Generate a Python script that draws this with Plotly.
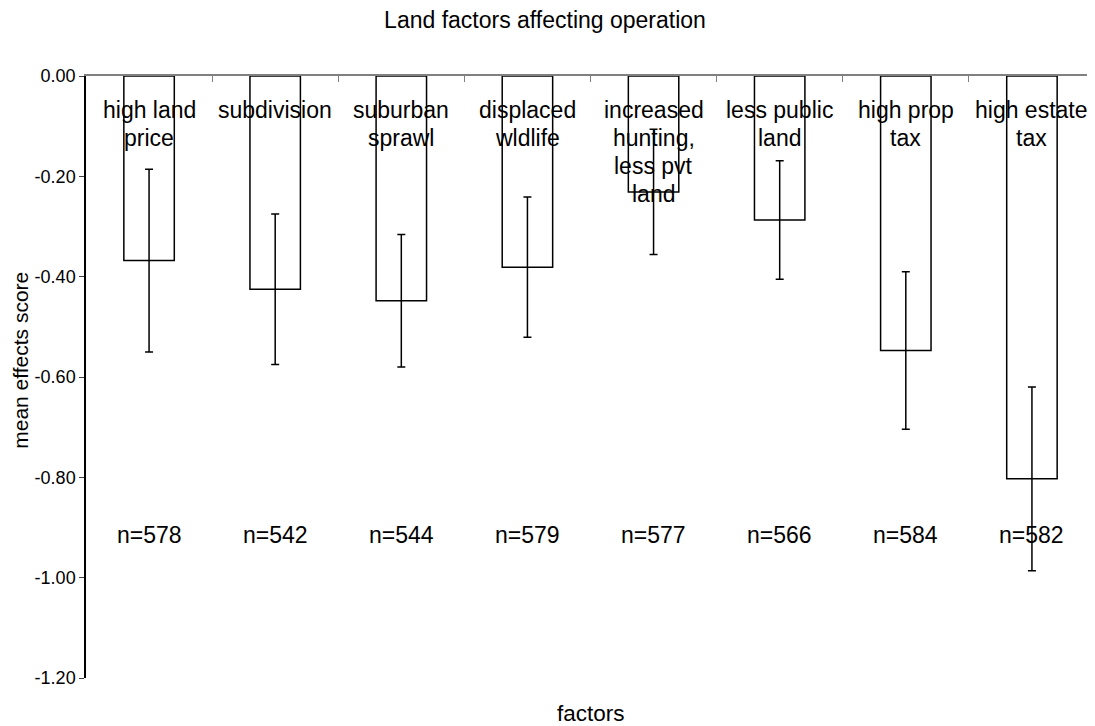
import plotly.graph_objects as go

categories = ["high land<br>price", "subdivision", "suburban<br>sprawl", "displaced<br>wldlife",
              "increased<br>hunting,<br>less pvt<br>land", "less public<br>land", "high prop<br>tax",
              "high estate<br>tax"]
means = [-0.368, -0.425, -0.448, -0.381, -0.231, -0.287, -0.547, -0.803]
errors = [0.182, 0.150, 0.132, 0.140, 0.125, 0.118, 0.157, 0.183]
n_labels = ["n=578", "n=542", "n=544", "n=579", "n=577", "n=566", "n=584", "n=582"]
y_ticks = [0.0, -0.2, -0.4, -0.6, -0.8, -1.0, -1.2]
y_tick_text = ["0.00", "-0.20", "-0.40", "-0.60", "-0.80", "-1.00", "-1.20"]

FONT = "Liberation Sans, Arial, sans-serif"
xs = list(range(len(categories)))

# page body has an 8px default margin, so the figure is sized/offset accordingly
W, H = 1087, 718

fig = go.Figure()
fig.add_trace(go.Bar(
    x=xs, y=means, width=0.4,
    marker=dict(color="white", line=dict(color="black", width=1.5)),
    error_y=dict(type="data", array=errors, visible=True, color="black", thickness=1.5, width=4),
    showlegend=False,
))

ann = []
for i, lab in enumerate(categories):
    for j, line in enumerate(lab.split("<br>")):
        ann.append(dict(x=xs[i], y=0, xref="x", yref="y", text=line, showarrow=False,
                        yanchor="middle", yshift=-(34 + 28 * j),
                        font=dict(family=FONT, size=23, color="black")))
    ann.append(dict(x=xs[i], y=-0.915, xref="x", yref="y", text=n_labels[i], showarrow=False,
                    yanchor="middle", font=dict(family=FONT, size=23, color="black")))

ann.append(dict(x=0.5, y=0, xref="paper", yref="paper", text="factors", showarrow=False,
                yanchor="middle", yshift=-35, font=dict(family=FONT, size=22.5, color="black")))
ann.append(dict(x=0, y=0.527, xref="paper", yref="paper", text="mean effects score", showarrow=False,
                xanchor="center", yanchor="middle", xshift=-65, textangle=-90,
                font=dict(family=FONT, size=21, color="black")))

fig.update_layout(
    width=W, height=H,
    margin=dict(l=78, r=0, t=68, b=48, autoexpand=False),
    paper_bgcolor="white", plot_bgcolor="white",
    title=dict(text="Land factors affecting operation", x=537 / W, xref="container", xanchor="center",
               y=1 - 12 / H, yref="container", yanchor="middle",
               font=dict(family=FONT, size=23, color="black")),
    annotations=ann,
    xaxis=dict(range=[-0.5, len(categories) - 0.5], side="top", showline=True, linecolor="#808080",
               linewidth=1.5, ticks="inside", tickcolor="#808080", ticklen=6,
               tickmode="array", tickvals=[i + 0.5 for i in range(len(categories) - 1)],
               showticklabels=False, showgrid=False, zeroline=False, automargin=False),
    yaxis=dict(range=[-1.2, 0], tickmode="array", tickvals=y_ticks, ticktext=y_tick_text,
               showline=True, linecolor="black", linewidth=1.5, ticks="outside", ticklen=5,
               tickcolor="#404040", showgrid=False, zeroline=False, automargin=False,
               tickfont=dict(family=FONT, size=18, color="black")),
)

fig.write_html("out.html")
